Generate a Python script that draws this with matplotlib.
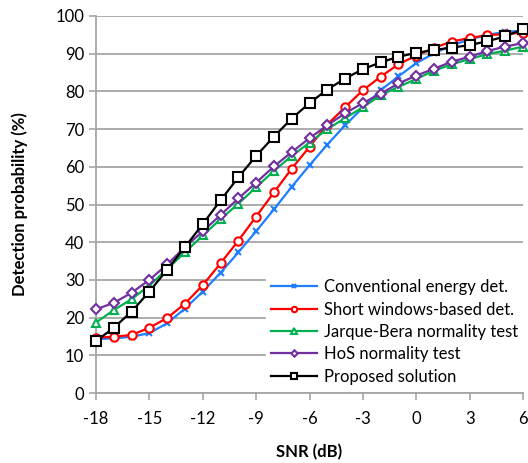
import matplotlib
matplotlib.use("Agg")
import matplotlib.pyplot as plt
import numpy as np

snr = list(range(-18, 7))
conventional = [14.3, 14.5, 14.9, 15.9, 18.5, 22.4, 26.9, 31.9, 37.3, 42.9, 48.7, 54.7, 60.4, 65.9, 71.0, 75.7, 80.3, 84.0, 87.5, 90.1, 92.2, 93.8, 95.0, 95.8, 96.1]
short_win = [14.7, 14.9, 15.4, 17.3, 19.9, 23.7, 28.6, 34.4, 40.4, 46.8, 53.2, 59.5, 65.3, 71.2, 75.8, 80.3, 83.9, 87.2, 89.5, 91.6, 93.2, 94.2, 94.9, 95.2, 95.6]
jarque = [18.7, 22.0, 24.9, 28.5, 32.9, 37.3, 41.8, 46.1, 50.2, 54.6, 58.9, 62.9, 66.4, 70.0, 72.9, 75.8, 79.0, 81.2, 83.3, 85.5, 87.2, 88.6, 89.9, 90.8, 91.9]
hos = [22.2, 23.9, 26.6, 30.0, 34.1, 38.7, 42.9, 47.2, 51.6, 55.8, 60.1, 63.9, 67.6, 71.0, 74.2, 76.9, 79.4, 82.1, 84.2, 86.0, 87.9, 89.2, 90.7, 91.9, 92.8]
proposed = [13.8, 17.3, 21.6, 26.9, 32.7, 38.7, 44.8, 51.1, 57.2, 62.9, 68.0, 72.8, 76.9, 80.5, 83.4, 85.9, 87.7, 89.2, 90.2, 91.0, 91.6, 92.3, 93.3, 94.6, 96.5]

labels = ["Conventional energy det.", "Short windows-based det.",
          "Jarque-Bera normality test", "HoS normality test", "Proposed solution"]
x_ticks = [-18, -15, -12, -9, -6, -3, 0, 3, 6]
y_ticks = list(range(0, 101, 10))

plt.rcParams['font.family'] = ['Lato', 'DejaVu Sans']

fig = plt.figure(figsize=(5.28, 4.63), dpi=100)
ax = fig.add_axes([96/528, 1-393/463, (523-96)/528, (393-16)/463])

styles = [
    dict(color="#1f7fff", marker="x", ms=5, mew=1.5),
    dict(color="#ff0000", marker="o", ms=6, mfc="white", mew=1.5),
    dict(color="#00b050", marker="^", ms=6, mfc="white", mew=1.5),
    dict(color="#7030a0", marker="D", ms=5, mfc="white", mew=1.5),
    dict(color="#000000", marker="s", ms=6.5, mfc="white", mew=1.5),
]
series = [conventional, short_win, jarque, hos, proposed]
for s, st, lab in zip(series, styles, labels):
    ax.plot(snr, s, lw=1.6, label=lab, clip_on=False, zorder=3, **st)

ax.set_xlim(-18, 6)
ax.set_ylim(0, 100)
ax.set_xticks(x_ticks)
ax.set_yticks(y_ticks)
ax.set_xticklabels([str(v) for v in x_ticks])
ax.tick_params(axis='both', labelsize=12, length=5, color="#a6a6a6", width=1.2)
ax.tick_params(axis='x', pad=8)
ax.yaxis.grid(True, color="#a6a6a6", lw=1.3, zorder=0)
ax.set_axisbelow(True)
for side in ["top", "right"]:
    ax.spines[side].set_visible(False)
for side in ["left", "bottom"]:
    ax.spines[side].set_color("#a6a6a6")
    ax.spines[side].set_linewidth(1.3)

ax.set_xlabel("SNR (dB)", fontsize=12, fontweight="bold", labelpad=12)
ax.set_ylabel("Detection probability (%)", fontsize=12, fontweight="bold", labelpad=20)

leg = ax.legend(loc="lower right", bbox_to_anchor=(1.02, -0.013), fontsize=12,
                frameon=True, framealpha=1, edgecolor="white", fancybox=False,
                handlelength=2.8, handletextpad=0.4, labelspacing=0.38,
                borderpad=0.3, markerscale=0.65)
leg.set_zorder(5)

fig.savefig("out.png", dpi=100)
